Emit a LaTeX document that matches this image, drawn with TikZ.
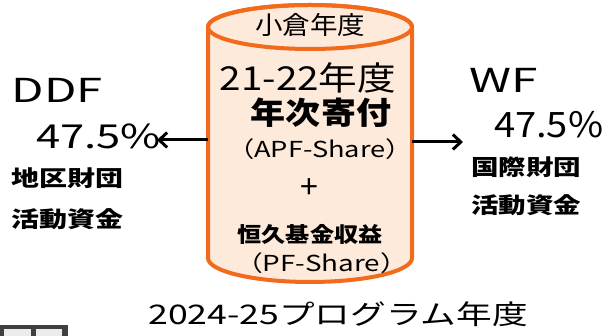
\documentclass[tikz,border=0pt]{standalone}
\usepackage{fontspec}
\usetikzlibrary{arrows.meta}
\setmainfont{Noto Sans CJK JP}
\newfontfamily\jp{Noto Sans CJK JP}
\definecolor{cylfill}{HTML}{FDEADA}
\definecolor{cylline}{HTML}{F26A1B}
\definecolor{icongray}{HTML}{404040}
\begin{document}
\begin{tikzpicture}[x=1pt,y=1pt,
  txt/.style={inner sep=0pt, outer sep=0pt},
  lbl/.style={txt, font=\jp\fontsize{#1}{#1}\selectfont},
  blbl/.style={txt, font=\jp\bfseries\fontsize{#1}{#1}\selectfont},
  conn/.style={draw=black, line width=3pt, -{Straight Barb[length=8pt,width=15pt,line width=3pt]}}]
\useasboundingbox (0,0) rectangle (613,336);
% cylinder
\path[fill=cylfill, draw=cylline, line width=4pt]
  (208,309) -- (208,78) arc[start angle=180, end angle=360, x radius=102, y radius=24]
  -- (412,309) arc[start angle=0, end angle=180, x radius=102, y radius=22] -- cycle;
\draw[cylline, line width=4pt] (310,309) ellipse[x radius=102, y radius=22];
\coordinate (cylL) at (208,196);
\coordinate (cylR) at (412,194);
% cylinder texts
\node[lbl=25, xscale=1.1] (kokura) at (310,311) {小倉年度};
\node[lbl=33, xscale=1.17] (year) at (308,258) {21-22年度};
\node[blbl=31, xscale=1.13] (annual) at (321,223) {年次寄付};
\node[lbl=22, xscale=1.24] (apf) at (320,187) {（APF-Share）};
\node[lbl=32] (plus) at (309,147) {+};
\node[blbl=21, xscale=1.15] (perm) at (310,102) {恒久基金収益};
\node[lbl=22, xscale=1.265] (pf) at (321.5,73) {（PF-Share）};
% left
\node[lbl=33, xscale=1.43, anchor=west] (ddf) at (12,246) {DDF};
\node[lbl=33, xscale=1.32, anchor=west] (ddfpct) at (36,200) {47.5\%};
\node[blbl=22, xscale=1.27, anchor=west] (ddf1) at (12,158) {地区財団};
\node[blbl=22, xscale=1.27, anchor=west] (ddf2) at (12,117) {活動資金};
% right
\node[lbl=33, xscale=1.45, anchor=west] (wf) at (469,256) {WF};
\node[lbl=35, xscale=1.09, anchor=west] (wfpct) at (494,211) {47.5\%};
\node[blbl=22, xscale=1.25, anchor=west] (wf1) at (471,169) {国際財団};
\node[blbl=22, xscale=1.25, anchor=west] (wf2) at (471,131) {活動資金};
% arrows
\coordinate (ddfend) at (157,196);
\coordinate (wfend) at (463,194);
\draw[conn] (cylL) -- (ddfend);
\draw[conn] (cylR) -- (wfend);
% bottom
\node[lbl=27, xscale=1.32] (prog) at (338,21.5) {2024-25プログラム年度};
% icon fragment
\fill[icongray] (0,0) rectangle (68,11);
\fill[white!85!gray] (4,0) rectangle (31,7);
\fill[white!85!gray] (36,0) rectangle (62,7);
\end{tikzpicture}
\end{document}
